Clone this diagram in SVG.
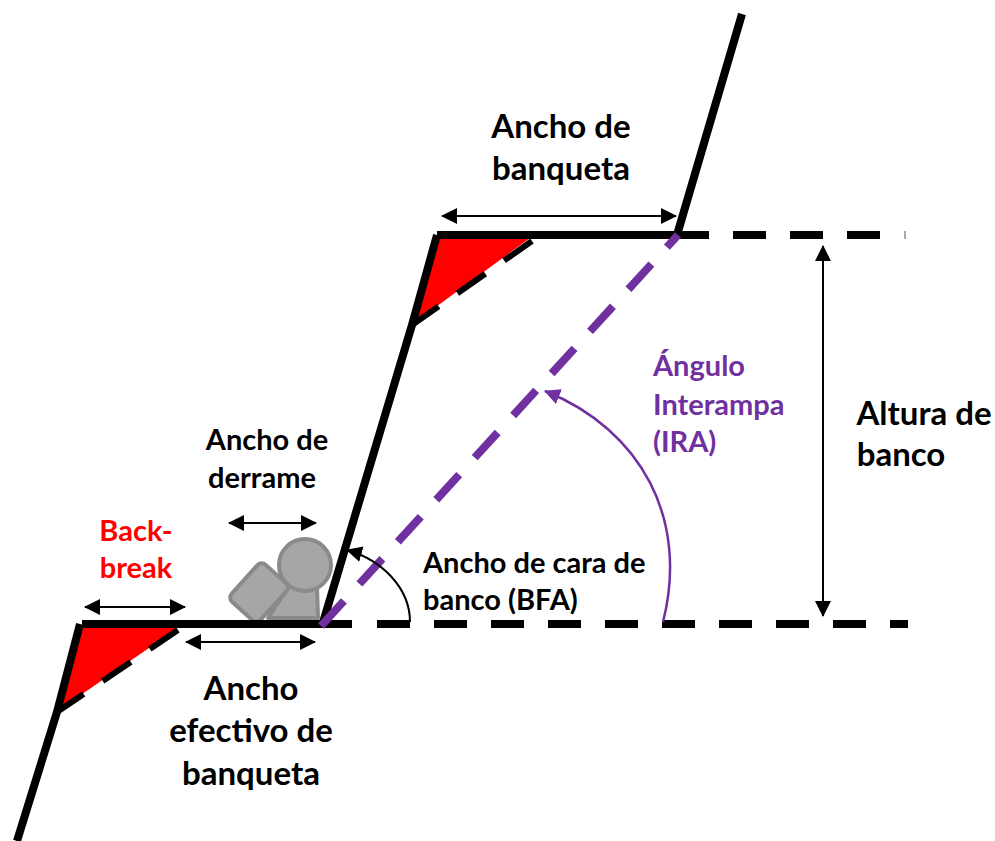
<svg xmlns="http://www.w3.org/2000/svg" width="995" height="841" viewBox="0 0 995 841">
<style>
text{font-family:"Lato","Liberation Sans",sans-serif;font-weight:700;text-anchor:middle;fill:#000}
.big{font-size:33px}.mid{font-size:29px}
.red{fill:#f00}.pur{fill:#7030a0}
.st{text-anchor:start}
.solid{fill:none;stroke:#000;stroke-width:8}
.dash{fill:none;stroke:#000;stroke-width:8;stroke-dasharray:33 24}
.tri{fill:#f00;stroke:none}
.tdash{fill:none;stroke:#000;stroke-width:6;stroke-dasharray:34 23}
.ira{fill:none;stroke:#7030a0;stroke-width:8;stroke-dasharray:34 23}
.dim{fill:none;stroke:#000;stroke-width:2;marker-start:url(#a);marker-end:url(#a)}
.rock{fill:#a6a6a6;stroke:#8a8a8a;stroke-width:4;stroke-linejoin:round}
</style>
<defs>
<marker id="a" markerUnits="userSpaceOnUse" markerWidth="16" markerHeight="16" refX="15" refY="8" orient="auto-start-reverse"><path d="M0 0L16 8L0 16z" fill="#000"/></marker>
<marker id="p" markerUnits="userSpaceOnUse" markerWidth="18" markerHeight="16" refX="15" refY="8" orient="auto"><path d="M0 0L16 8L0 16z" fill="#7030a0"/></marker>
</defs>
<g id="ground-tiers">
<path class="tri" d="M82 628H178L59 710z"/>
<path class="tri" d="M437 238H530L414 323z"/>
</g>
<g id="rocks">
<path class="rock" d="M268 618L318 618L317 585L290 585z"/>
<rect class="rock" x="234" y="573" width="50" height="39" rx="6" transform="rotate(-48 259 592.5)"/>
<circle class="rock" cx="305" cy="565" r="26"/>
</g>
<g id="connectors">
<path class="solid" d="M17 841L57 712L80 624M322 626L412 325L437 235M437 235H709M677 235L742 14M82 624H352"/>
<path class="dash" d="M377 624H908"/>
<path class="dash" d="M733 235H881"/>
<path fill="none" stroke="#aaa" stroke-width="2" d="M905 231V239"/>
<path class="tdash" d="M178 630L57 712"/>
<path class="tdash" d="M532 241L412 325"/>
<path class="ira" d="M321 626L678 235"/>
<path class="dim" d="M85 607H185"/>
<path class="dim" d="M186 642H315"/>
<path class="dim" d="M229 523H316"/>
<path class="dim" d="M442 216H676"/>
<path class="dim" d="M823 246V616"/>
<path fill="none" stroke="#000" stroke-width="2" marker-end="url(#a)" d="M410 622C410 588 382 560 347 550"/>
<path fill="none" stroke="#7030a0" stroke-width="2.5" marker-end="url(#p)" d="M663 622C689 520 642 430 545 391"/>
</g>
<g id="label-banqueta"><text class="big" x="561" y="138">Ancho de</text><text class="big" x="561" y="180">banqueta</text></g>
<g id="label-altura"><text class="big" x="924" y="425">Altura de</text><text class="big" x="901" y="466">banco</text></g>
<g id="label-ira"><text class="mid pur st" x="653" y="376">Ángulo</text><text class="mid pur st" x="653" y="415">Interampa</text><text class="mid pur st" x="653" y="452">(IRA)</text></g>
<g id="label-bfa"><text class="mid st" x="423" y="573">Ancho de cara de</text><text class="mid st" x="423" y="610">banco (BFA)</text></g>
<g id="label-derrame"><text class="mid" x="267" y="450">Ancho de</text><text class="mid" x="262" y="488">derrame</text></g>
<g id="label-backbreak"><text class="mid red" x="136" y="541">Back-</text><text class="mid red" x="136" y="578">break</text></g>
<g id="label-efectivo"><text class="big" x="251" y="700">Ancho</text><text class="big" x="251" y="742">efectivo de</text><text class="big" x="251" y="785">banqueta</text></g>
</svg>
